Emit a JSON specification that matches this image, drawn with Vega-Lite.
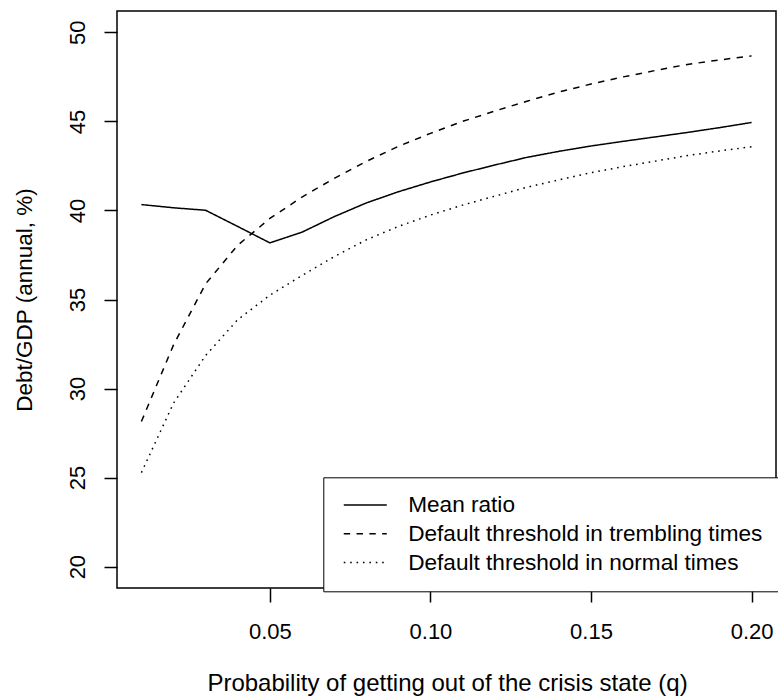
{
  "$schema": "https://vega.github.io/schema/vega-lite/v6.json",
  "autosize": {"type": "none"},
  "padding": {"left": 117, "top": 11, "right": 2, "bottom": 110},
  "width": 659,
  "height": 577,
  "background": "white",
  "config": {
    "font": "Liberation Sans",
    "view": {"stroke": "black", "strokeWidth": 1.5},
    "axis": {"grid": false, "domain": false, "tickColor": "black", "tickWidth": 1.5, "labelColor": "black", "titleColor": "black", "labelFont": "Liberation Sans", "titleFont": "Liberation Sans", "titleFontWeight": "normal"}
  },
  "data": {"values": [
    {"q": 0.01, "value": 40.33, "series": "Mean ratio"},
    {"q": 0.02, "value": 40.15, "series": "Mean ratio"},
    {"q": 0.03, "value": 40.01, "series": "Mean ratio"},
    {"q": 0.04, "value": 39.1, "series": "Mean ratio"},
    {"q": 0.05, "value": 38.18, "series": "Mean ratio"},
    {"q": 0.06, "value": 38.78, "series": "Mean ratio"},
    {"q": 0.07, "value": 39.65, "series": "Mean ratio"},
    {"q": 0.08, "value": 40.42, "series": "Mean ratio"},
    {"q": 0.09, "value": 41.05, "series": "Mean ratio"},
    {"q": 0.10, "value": 41.6, "series": "Mean ratio"},
    {"q": 0.11, "value": 42.1, "series": "Mean ratio"},
    {"q": 0.12, "value": 42.55, "series": "Mean ratio"},
    {"q": 0.13, "value": 42.98, "series": "Mean ratio"},
    {"q": 0.14, "value": 43.32, "series": "Mean ratio"},
    {"q": 0.15, "value": 43.62, "series": "Mean ratio"},
    {"q": 0.16, "value": 43.88, "series": "Mean ratio"},
    {"q": 0.17, "value": 44.13, "series": "Mean ratio"},
    {"q": 0.18, "value": 44.38, "series": "Mean ratio"},
    {"q": 0.19, "value": 44.65, "series": "Mean ratio"},
    {"q": 0.20, "value": 44.94, "series": "Mean ratio"},
    {"q": 0.01, "value": 28.15, "series": "Default threshold in trembling times"},
    {"q": 0.02, "value": 32.45, "series": "Default threshold in trembling times"},
    {"q": 0.03, "value": 35.88, "series": "Default threshold in trembling times"},
    {"q": 0.04, "value": 38.05, "series": "Default threshold in trembling times"},
    {"q": 0.05, "value": 39.55, "series": "Default threshold in trembling times"},
    {"q": 0.06, "value": 40.75, "series": "Default threshold in trembling times"},
    {"q": 0.07, "value": 41.8, "series": "Default threshold in trembling times"},
    {"q": 0.08, "value": 42.75, "series": "Default threshold in trembling times"},
    {"q": 0.09, "value": 43.6, "series": "Default threshold in trembling times"},
    {"q": 0.10, "value": 44.33, "series": "Default threshold in trembling times"},
    {"q": 0.11, "value": 45.0, "series": "Default threshold in trembling times"},
    {"q": 0.12, "value": 45.58, "series": "Default threshold in trembling times"},
    {"q": 0.13, "value": 46.13, "series": "Default threshold in trembling times"},
    {"q": 0.14, "value": 46.65, "series": "Default threshold in trembling times"},
    {"q": 0.15, "value": 47.1, "series": "Default threshold in trembling times"},
    {"q": 0.16, "value": 47.5, "series": "Default threshold in trembling times"},
    {"q": 0.17, "value": 47.86, "series": "Default threshold in trembling times"},
    {"q": 0.18, "value": 48.2, "series": "Default threshold in trembling times"},
    {"q": 0.19, "value": 48.45, "series": "Default threshold in trembling times"},
    {"q": 0.20, "value": 48.68, "series": "Default threshold in trembling times"},
    {"q": 0.01, "value": 25.28, "series": "Default threshold in normal times"},
    {"q": 0.02, "value": 29.18, "series": "Default threshold in normal times"},
    {"q": 0.03, "value": 31.86, "series": "Default threshold in normal times"},
    {"q": 0.04, "value": 33.87, "series": "Default threshold in normal times"},
    {"q": 0.05, "value": 35.24, "series": "Default threshold in normal times"},
    {"q": 0.06, "value": 36.35, "series": "Default threshold in normal times"},
    {"q": 0.07, "value": 37.4, "series": "Default threshold in normal times"},
    {"q": 0.08, "value": 38.35, "series": "Default threshold in normal times"},
    {"q": 0.09, "value": 39.1, "series": "Default threshold in normal times"},
    {"q": 0.10, "value": 39.74, "series": "Default threshold in normal times"},
    {"q": 0.11, "value": 40.3, "series": "Default threshold in normal times"},
    {"q": 0.12, "value": 40.8, "series": "Default threshold in normal times"},
    {"q": 0.13, "value": 41.3, "series": "Default threshold in normal times"},
    {"q": 0.14, "value": 41.72, "series": "Default threshold in normal times"},
    {"q": 0.15, "value": 42.12, "series": "Default threshold in normal times"},
    {"q": 0.16, "value": 42.46, "series": "Default threshold in normal times"},
    {"q": 0.17, "value": 42.77, "series": "Default threshold in normal times"},
    {"q": 0.18, "value": 43.08, "series": "Default threshold in normal times"},
    {"q": 0.19, "value": 43.34, "series": "Default threshold in normal times"},
    {"q": 0.20, "value": 43.58, "series": "Default threshold in normal times"}
  ]},
  "mark": {"type": "line", "color": "black", "strokeWidth": 1.5},
  "encoding": {
    "x": {
      "field": "q", "type": "quantitative",
      "scale": {"domain": [0.0024, 0.2076], "nice": false, "zero": false},
      "axis": {
        "values": [0.05, 0.10, 0.15, 0.20], "format": ".2f",
        "tickSize": 14, "labelPadding": 36, "labelBaseline": "alphabetic", "labelFontSize": 22,
        "labelFlush": false,
        "title": "Probability of getting out of the crisis state (q)",
        "titleFontSize": 24, "titleX": 330, "titleY": 102.7, "titleBaseline": "alphabetic", "titleAlign": "center", "titleAnchor": null
      }
    },
    "y": {
      "field": "value", "type": "quantitative",
      "scale": {"domain": [18.8, 51.2], "nice": false, "zero": false},
      "axis": {
        "values": [20, 25, 30, 35, 40, 45, 50],
        "tickSize": 13, "labelPadding": 19.5, "labelAngle": -90, "labelAlign": "center", "labelBaseline": "alphabetic", "labelFontSize": 22,
        "labelFlush": false,
        "title": "Debt/GDP (annual, %)",
        "titleFontSize": 22.5, "titleAngle": -90, "titleX": -85.5, "titleY": 288.5, "titleBaseline": "alphabetic", "titleAlign": "center"
      }
    },
    "strokeDash": {
      "field": "series", "type": "nominal",
      "scale": {
        "domain": ["Mean ratio", "Default threshold in trembling times", "Default threshold in normal times"],
        "range": [[1, 0], [6.4, 6.4], [1.6, 4.8]]
      },
      "legend": {
        "title": null, "orient": "none", "legendX": 206.3, "legendY": 466.3,
        "symbolType": "M-0.674,0H3.326", "symbolSize": 462.25, "symbolStrokeWidth": 1.5, "symbolStrokeColor": "black",
        "labelFontSize": 22.6, "labelColor": "black", "labelOffset": 45.7, "labelLimit": 0,
        "strokeColor": "black", "fillColor": "white", "padding": 16.2, "rowPadding": 4.8
      }
    }
  }
}
